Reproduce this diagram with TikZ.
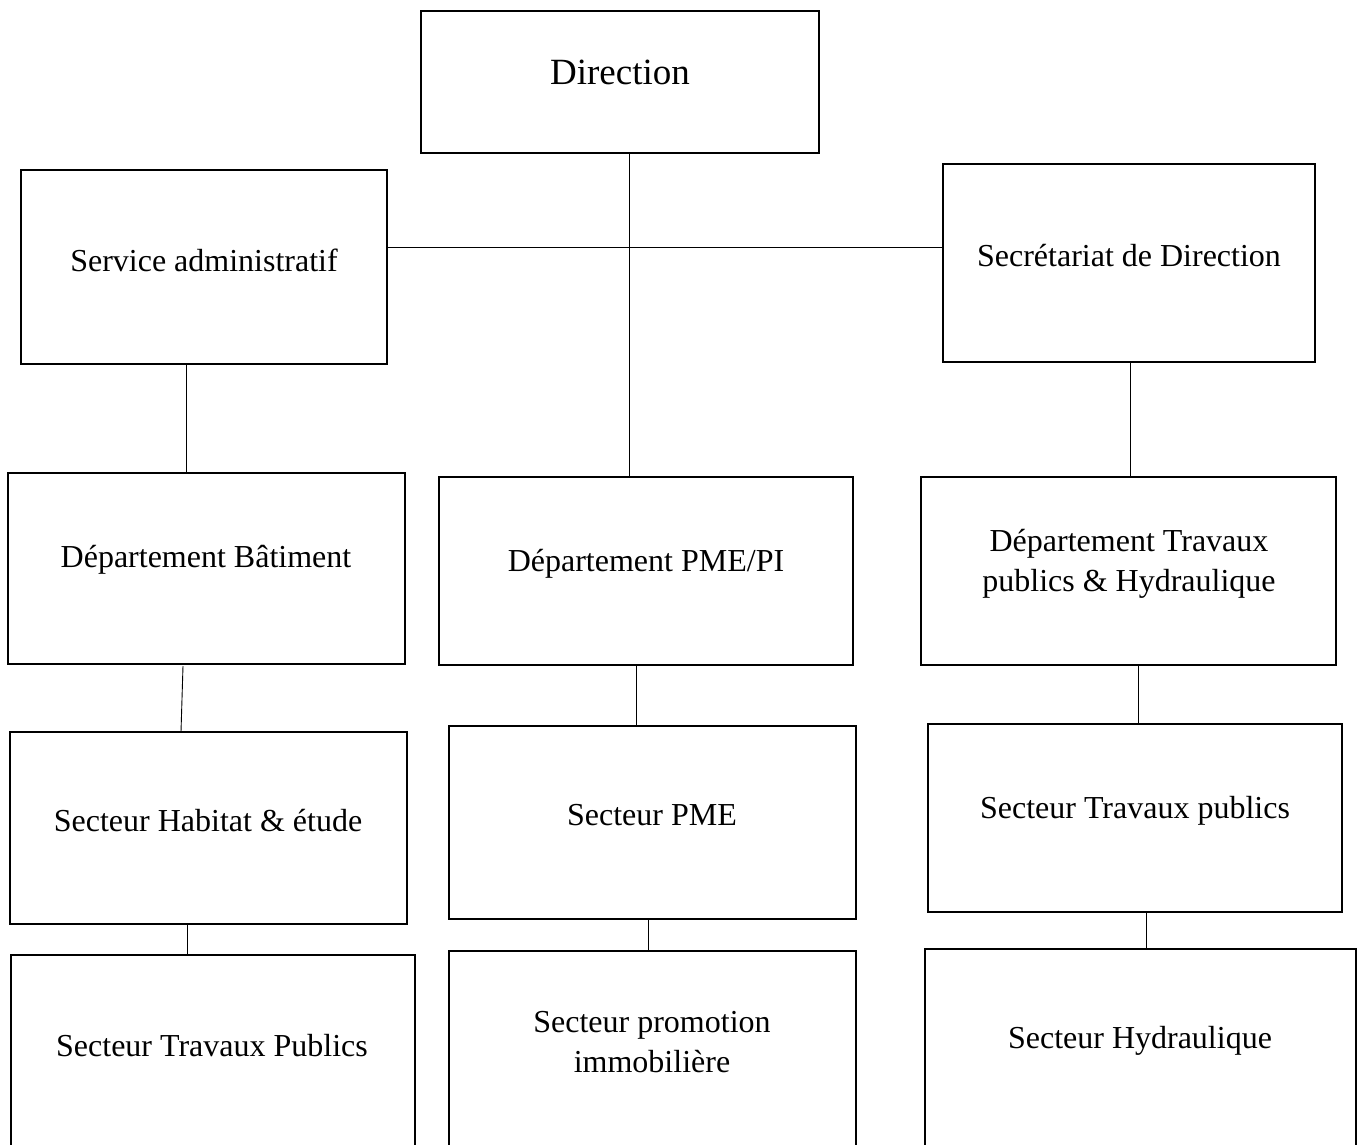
\documentclass[tikz,border=0pt]{standalone}
\usepackage{fontspec}
\setmainfont{Liberation Serif}
\begin{document}
\begin{tikzpicture}[x=1pt,y=-1pt,
  box/.style={draw=black,line width=2.8pt,rectangle,inner sep=0pt,outer sep=0pt,anchor=north west},
  lbl/.style={font=\fontsize{32}{40}\selectfont,align=center,inner sep=0pt},
  link/.style={line width=0.9pt}]
\useasboundingbox (0,0) rectangle (1360,1144);
\clip (0,0) rectangle (1360,1144);
% boxes
\node[box,minimum width=398pt,minimum height=142pt] (dir) at (421,11) {};
\node[box,minimum width=366pt,minimum height=194pt] (sadm) at (21,170) {};
\node[box,minimum width=372pt,minimum height=198pt] (sec) at (943,164) {};
\node[box,minimum width=397pt,minimum height=191pt] (dbat) at (8,473) {};
\node[box,minimum width=414pt,minimum height=188pt] (dpme) at (439,477) {};
\node[box,minimum width=415pt,minimum height=188pt] (dtph) at (921,477) {};
\node[box,minimum width=397pt,minimum height=192pt] (shab) at (10,732) {};
\node[box,minimum width=407pt,minimum height=193pt] (spme) at (449,726) {};
\node[box,minimum width=414pt,minimum height=188pt] (stp) at (928,724) {};
\node[box,minimum width=404pt,minimum height=260pt] (stpub) at (11,955) {};
\node[box,minimum width=407pt,minimum height=260pt] (sprom) at (449,951) {};
\node[box,minimum width=431pt,minimum height=260pt] (shyd) at (925,949) {};
% labels
\node[lbl,font=\fontsize{37}{44}\selectfont] (tdir) at (620,72) {Direction};
\node[lbl] (tsadm) at (204,260) {Service administratif};
\node[lbl] (tsec) at (1129,256) {Secrétariat de Direction};
\node[lbl] (tdbat) at (206,560) {Département Bâtiment};
\node[lbl] (tdpme) at (646,564) {Département PME/PI};
\node[lbl] (tdtph) at (1129,564) {Département Travaux\\publics \& Hydraulique};
\node[lbl] (tshab) at (208,821) {Secteur Habitat \& étude};
\node[lbl] (tspme) at (652,815) {Secteur PME};
\node[lbl] (tstp) at (1135,811) {Secteur Travaux publics};
\node[lbl] (tstpub) at (212,1046) {Secteur Travaux Publics};
\node[lbl] (tsprom) at (652,1042) {Secteur promotion\\immobilière};
\node[lbl] (tshyd) at (1140,1041) {Secteur Hydraulique};
% connectors
\draw[link] ([xshift=9pt]dir.south) -- ([xshift=-17pt]dpme.north);
\draw[link] (sadm.east |- 0,247) -- (sec.west |- 0,247);
\draw[link] ([xshift=-18pt]sadm.south) -- ([xshift=-20.5pt]dbat.north);
\draw[link] ([xshift=1pt]sec.south) -- ([xshift=1.5pt]dtph.north);
\draw[link] ([xshift=-23.5pt,yshift=-2pt]dbat.south) -- ([xshift=-27.5pt]shab.north);
\draw[link] ([xshift=-10pt]dpme.south) -- ([xshift=-16.5pt]spme.north);
\draw[link] ([xshift=9.5pt]dtph.south) -- ([xshift=3pt]stp.north);
\draw[link] ([xshift=-21.5pt]shab.south) -- ([xshift=-26pt]stpub.north);
\draw[link] ([xshift=-4.5pt]spme.south) -- ([xshift=-4.5pt]sprom.north);
\draw[link] ([xshift=11pt]stp.south) -- ([xshift=5.5pt]shyd.north);
\end{tikzpicture}
\end{document}
